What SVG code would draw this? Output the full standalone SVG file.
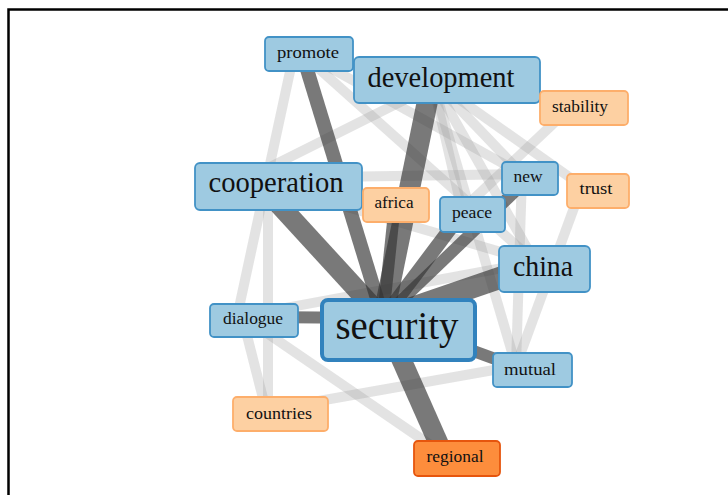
<svg xmlns="http://www.w3.org/2000/svg" width="728" height="495" viewBox="0 0 728 495">
  <style>
    .frame { stroke: #000; stroke-width: 2.5; fill: none; }
    .strong { stroke: #333; stroke-opacity: 0.66; fill: none; }
    .weak { stroke: #999; stroke-opacity: 0.28; stroke-width: 10; fill: none; }
    .blue rect { fill: #9ecae1; stroke: #4292c6; stroke-width: 1.8; }
    .peach rect { fill: #fdd0a2; stroke: #fdae6b; stroke-width: 1.8; }
    .hot rect { fill: #fd8d3c; stroke: #e6550d; stroke-width: 1.8; }
    .focus rect { fill: #9ecae1; stroke: #3182bd; stroke-width: 4; }
    text { font-family: "Liberation Serif", "DejaVu Serif", serif; fill: #111; text-anchor: middle; }
    .s { font-size: 16px; }
    .m { font-size: 29px; }
    .l { font-size: 39px; }
  </style>
  <rect x="0" y="0" width="728" height="495" fill="#fff"/>
  <path class="frame" d="M8.5 495 V9.5 H728"/>

  <g id="connectors">
    <!-- weak co-occurrence links -->
    <line class="weak" x1="294" y1="53" x2="237" y2="317"/>
    <line class="weak" x1="298" y1="50" x2="535" y2="262"/>
    <line class="weak" x1="298" y1="50" x2="522" y2="174"/>
    <line class="weak" x1="230" y1="187" x2="432" y2="86"/>
    <line class="weak" x1="262" y1="178" x2="522" y2="174"/>
    <line class="weak" x1="262" y1="182" x2="535" y2="262"/>
    <line class="weak" x1="268" y1="182" x2="268" y2="410"/>
    <line class="weak" x1="242" y1="316" x2="266" y2="410"/>
    <line class="weak" x1="242" y1="316" x2="535" y2="262"/>
    <line class="weak" x1="242" y1="316" x2="445" y2="455"/>
    <line class="weak" x1="268" y1="410" x2="516" y2="366"/>
    <line class="weak" x1="582" y1="186" x2="516" y2="366"/>
    <line class="weak" x1="574" y1="104" x2="462" y2="210"/>
    <line class="weak" x1="432" y1="80" x2="535" y2="262"/>
    <line class="weak" x1="432" y1="80" x2="522" y2="174"/>
    <line class="weak" x1="432" y1="80" x2="516" y2="366"/>
    <line class="weak" x1="432" y1="80" x2="462" y2="210"/>
    <line class="weak" x1="432" y1="80" x2="582" y2="186"/>
    <line class="weak" x1="522" y1="174" x2="516" y2="366"/>
    <!-- strong links to "security" -->
    <line class="strong" stroke-width="14" x1="302" y1="53" x2="383" y2="318"/>
    <line class="strong" stroke-width="21" x1="432" y1="79" x2="383" y2="318"/>
    <line class="strong" stroke-width="20" x1="262" y1="186" x2="383" y2="318"/>
    <line class="strong" stroke-width="12" x1="395" y1="203" x2="383" y2="318"/>
    <line class="strong" stroke-width="12" x1="530" y1="177" x2="383" y2="318"/>
    <line class="strong" stroke-width="14" x1="462" y1="213" x2="383" y2="318"/>
    <line class="strong" stroke-width="22" x1="540" y1="264" x2="383" y2="318"/>
    <line class="strong" stroke-width="12" x1="254" y1="317" x2="383" y2="318"/>
    <line class="strong" stroke-width="12" x1="520" y1="368" x2="383" y2="318"/>
    <line class="strong" stroke-width="20" x1="445" y1="458" x2="383" y2="318"/>
  </g>

  <g id="node-promote" class="blue"><rect x="265" y="37" width="88" height="34" rx="4"/><text class="s" x="308" y="58" textLength="62" lengthAdjust="spacingAndGlyphs">promote</text></g>
  <g id="node-development" class="blue"><rect x="354" y="57" width="186" height="46" rx="5"/><text class="m" x="441" y="87" textLength="147" lengthAdjust="spacingAndGlyphs">development</text></g>
  <g id="node-stability" class="peach"><rect x="540" y="91" width="88" height="34" rx="4"/><text class="s" x="580" y="112" textLength="56" lengthAdjust="spacingAndGlyphs">stability</text></g>
  <g id="node-cooperation" class="blue"><rect x="195" y="163" width="167" height="47" rx="5"/><text class="m" x="276" y="192" textLength="135" lengthAdjust="spacingAndGlyphs">cooperation</text></g>
  <g id="node-africa" class="peach"><rect x="363" y="188" width="66" height="34" rx="4"/><text class="s" x="394" y="208" textLength="39" lengthAdjust="spacingAndGlyphs">africa</text></g>
  <g id="node-new" class="blue"><rect x="502" y="162" width="56" height="33" rx="4"/><text class="s" x="528" y="182" textLength="29" lengthAdjust="spacingAndGlyphs">new</text></g>
  <g id="node-trust" class="peach"><rect x="567" y="174" width="62" height="34" rx="4"/><text class="s" x="596" y="194" textLength="33" lengthAdjust="spacingAndGlyphs">trust</text></g>
  <g id="node-peace" class="blue"><rect x="440" y="197" width="65" height="35" rx="4"/><text class="s" x="472" y="218" textLength="40" lengthAdjust="spacingAndGlyphs">peace</text></g>
  <g id="node-china" class="blue"><rect x="499" y="246" width="91" height="46" rx="5"/><text class="m" x="543" y="276" textLength="60" lengthAdjust="spacingAndGlyphs">china</text></g>
  <g id="node-dialogue" class="blue"><rect x="210" y="304" width="88" height="33" rx="4"/><text class="s" x="253" y="324" textLength="60" lengthAdjust="spacingAndGlyphs">dialogue</text></g>
  <g id="node-security" class="focus"><rect x="322" y="300" width="153" height="60" rx="6"/><text class="l" x="397" y="339" textLength="123" lengthAdjust="spacingAndGlyphs">security</text></g>
  <g id="node-mutual" class="blue"><rect x="493" y="353" width="79" height="34" rx="4"/><text class="s" x="530" y="375" textLength="52" lengthAdjust="spacingAndGlyphs">mutual</text></g>
  <g id="node-countries" class="peach"><rect x="233" y="397" width="95" height="34" rx="4"/><text class="s" x="279" y="419" textLength="66" lengthAdjust="spacingAndGlyphs">countries</text></g>
  <g id="node-regional" class="hot"><rect x="414" y="441" width="86" height="35" rx="4"/><text class="s" x="455" y="462" textLength="57" lengthAdjust="spacingAndGlyphs">regional</text></g>
</svg>
